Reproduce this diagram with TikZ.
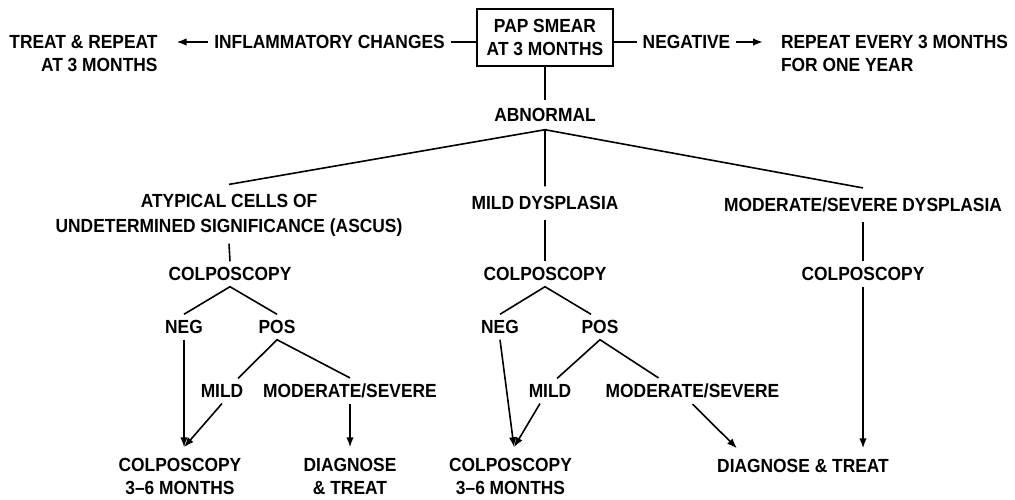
\documentclass[tikz,border=0pt]{standalone}
\usepackage{fontspec}
\setmainfont{Liberation Sans}[FakeStretch=0.915]
\usepackage{tikz}
\usetikzlibrary{positioning,arrows.meta}
\tikzset{>={Latex[length=10pt,width=7.5pt]}}

\begin{document}
\begin{tikzpicture}[x=1pt, y=-1pt, on grid, line width=1.6pt,
  every node/.style={font=\fontsize{19}{23}\selectfont\bfseries,
    inner sep=0pt, outer sep=6pt, align=center},
  box/.style={draw, minimum width=136pt, minimum height=57pt, outer sep=0pt},
  head/.style={outer sep=10pt},
  leaf/.style={outer sep=11pt}]

  \useasboundingbox (0,0) rectangle (1015,500);

  % Nodes
  \node[box]                                     (pap)      at (545,37.5) {PAP SMEAR\\AT 3 MONTHS};
  \node[below left=4.5pt and 215.5pt of pap]     (inflam)   {INFLAMMATORY CHANGES};
  \node[below left=11.5pt and 246pt of inflam, align=right] (treat) {TREAT \& REPEAT\\AT 3 MONTHS};
  \node[below right=4.5pt and 141.5pt of pap]    (negtop)   {NEGATIVE};
  \node[below right=11pt and 208pt of negtop, align=left] (repeat) {REPEAT EVERY 3 MONTHS\\FOR ONE YEAR};
  \node[below=77.5pt of pap, outer sep=8pt]      (abnormal) {ABNORMAL};

  \node[head, below=88pt of abnormal]            (mild)     {MILD DYSPLASIA};
  \node[head, below left=12.5pt and 316pt of mild] (ascus)  {ATYPICAL CELLS OF\\[2pt]UNDETERMINED SIGNIFICANCE (ASCUS)};
  \node[head, below right=2pt and 318pt of mild] (modsev)   {MODERATE/SEVERE DYSPLASIA};

  \node[below=71pt of mild]                      (colB)     {COLPOSCOPY};
  \node[left=315pt of colB]                      (colA)     {COLPOSCOPY};
  \node[right=318pt of colB]                     (colC)     {COLPOSCOPY};

  \node[below left=53pt and 46pt of colA]        (negA)     {NEG};
  \node[below right=53pt and 47pt of colA]       (posA)     {POS};
  \node[below left=64pt and 55pt of posA]        (mildA)    {MILD};
  \node[below right=64pt and 73pt of posA]       (msA)      {MODERATE/SEVERE};
  \node[leaf, below left=149.5pt and 4pt of negA] (c36A)    {COLPOSCOPY\\3--6 MONTHS};
  \node[leaf, below=85.5pt of msA]               (dtA)      {DIAGNOSE\\\& TREAT};

  \node[below left=53pt and 45pt of colB]        (negB)     {NEG};
  \node[below right=53pt and 55pt of colB]       (posB)     {POS};
  \node[below left=64pt and 50pt of posB]        (mildB)    {MILD};
  \node[below right=64pt and 92.5pt of posB]     (msB)      {MODERATE/SEVERE};
  \node[leaf, below right=149.5pt and 10.5pt of negB] (c36B) {COLPOSCOPY\\3--6 MONTHS};
  \node[leaf, below left=192pt and 60pt of colC] (dtC)      {DIAGNOSE \& TREAT};

  % Edges
  \draw[->] (inflam.west) -- ([xshift=13pt]inflam.west -| treat.east);
  \draw (inflam.east) -- (inflam.east -| pap.west);
  \draw (negtop.west -| pap.east) -- (negtop.west);
  \draw[->] (negtop.east) -- ([xshift=-12pt]negtop.east -| repeat.west);
  \draw (pap.south) -- (abnormal.north);
  \draw (ascus.north) -- (abnormal.south) -- (mild.north);
  \draw (abnormal.south) -- (modsev.north);

  % left branch
  \draw ([yshift=3pt]ascus.south) -- (colA.north);
  \draw (negA.north) -- (colA.south) -- (posA.north);
  \draw[->] (negA.south) -- ([xshift=4pt]c36A.north);
  \draw[->] (mildA.south) -- ([xshift=4pt]c36A.north);
  \draw ([xshift=16pt]mildA.north) -- (posA.south) -- (msA.north);
  \draw[->] (msA.south) -- (msA.south |- dtA.north);

  % middle branch
  \draw (mild.south) -- (colB.north);
  \draw (negB.north) -- (colB.south) -- ([xshift=-9pt]posB.north);
  \draw[->] (negB.south) -- ([xshift=3.5pt]c36B.north);
  \draw[->] ([xshift=-10pt]mildB.south) -- ([xshift=3.5pt]c36B.north);
  \draw ([xshift=7pt]mildB.north) -- (posB.south) -- ([xshift=-34pt]msB.north);
  \draw[->] (msB.south) -- ([xshift=-66pt]dtC.north);

  % right branch
  \draw (modsev.south) -- (colC.north);
  \draw[->] (colC.south) -- (colC.south |- dtC.north);

\end{tikzpicture}
\end{document}
